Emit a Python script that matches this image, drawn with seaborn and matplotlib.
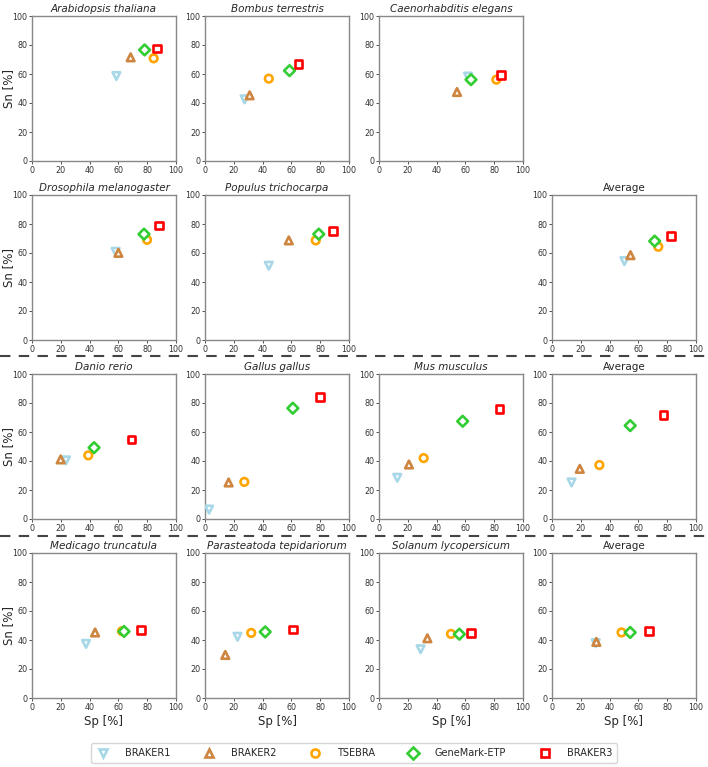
import matplotlib
matplotlib.use("Agg")
import matplotlib.pyplot as plt
from matplotlib.lines import Line2D
import seaborn as sns
import pandas as pd

sns.set_style("white")
plt.rcParams['font.family'] = ['DejaVu Sans']

tools = ["BRAKER1", "BRAKER2", "TSEBRA", "GeneMark-ETP", "BRAKER3"]
tool_colors = ["#a8d8e8", "#cd853f", "#ffa500", "#32cd32", "#ff0000"]
tool_markers = ["v", "^", "o", "D", "s"]

titles = ["Arabidopsis thaliana", "Bombus terrestris", "Caenorhabditis elegans",
          "Drosophila melanogaster", "Populus trichocarpa", "Average",
          "Danio rerio", "Gallus gallus", "Mus musculus", "Average",
          "Medicago truncatula", "Parasteatoda tepidariorum", "Solanum lycopersicum", "Average"]

# Sp [%] per panel, in tool order
sp_values = [
    [58.6, 68.5, 84.5, 78.2, 86.6],
    [27.5, 31.0, 44.3, 58.7, 64.9],
    [61.8, 54.2, 81.5, 63.9, 84.7],
    [58.1, 60.0, 79.9, 77.8, 88.2],
    [44.3, 58.2, 76.9, 79.0, 88.9],
    [50.3, 54.5, 73.8, 71.3, 82.8],
    [23.6, 19.9, 39.1, 43.1, 69.2],
    [2.8, 16.4, 27.3, 61.0, 79.9],
    [12.7, 20.8, 31.0, 58.1, 83.6],
    [13.6, 19.3, 32.9, 54.3, 77.5],
    [37.5, 43.8, 62.5, 63.9, 75.9],
    [22.6, 14.1, 32.1, 41.8, 61.2],
    [28.9, 33.6, 50.0, 55.8, 63.9],
    [30.3, 30.8, 48.3, 54.3, 67.4],
]
# Sn [%] per panel, in tool order
sn_values = [
    [58.6, 71.5, 70.8, 76.6, 77.7],
    [42.5, 45.3, 56.8, 62.3, 66.9],
    [58.2, 47.6, 56.1, 56.1, 59.3],
    [60.8, 60.1, 69.1, 73.0, 79.0],
    [51.2, 68.7, 68.7, 73.0, 75.1],
    [54.4, 58.5, 64.3, 68.2, 71.7],
    [40.4, 41.1, 43.9, 49.2, 54.7],
    [6.5, 25.2, 25.6, 76.4, 84.1],
    [28.4, 37.6, 42.0, 67.4, 76.0],
    [25.2, 34.6, 37.2, 64.4, 71.6],
    [37.3, 45.2, 46.1, 45.9, 47.0],
    [42.2, 29.7, 44.9, 45.6, 47.2],
    [33.6, 41.2, 44.2, 44.0, 44.7],
    [37.8, 38.7, 45.2, 45.2, 46.3],
]
grid_pos = [(0, 0), (0, 1), (0, 2), (1, 0), (1, 1), (1, 3),
            (2, 0), (2, 1), (2, 2), (2, 3), (3, 0), (3, 1), (3, 2), (3, 3)]
ticks = [0, 20, 40, 60, 80, 100]

W, H = 708, 767
fig = plt.figure(figsize=(W / 100, H / 100), dpi=100)
col_left = [32, 205, 379, 552]
row_top = [16, 195, 374, 553]
aw, ah = 144, 145

palette = dict(zip(tools, tool_colors))
markers = dict(zip(tools, tool_markers))

for title, sp, sn, (r, c) in zip(titles, sp_values, sn_values, grid_pos):
    ax = fig.add_axes([col_left[c] / W, 1 - (row_top[r] + ah) / H, aw / W, ah / H])
    df = pd.DataFrame({"Sp": sp, "Sn": sn, "tool": tools})
    sns.scatterplot(data=df, x="Sp", y="Sn", hue="tool", style="tool",
                    palette=palette, markers=markers, hue_order=tools,
                    style_order=tools, s=30, ax=ax, legend=False, zorder=3)
    for coll in ax.collections:
        fc = coll.get_facecolors()
        coll.set_edgecolors(fc)
        coll.set_facecolors("white")
        coll.set_linewidths(1.9)
    ax.set_xlim(0, 100)
    ax.set_ylim(0, 100)
    ax.set_xticks(ticks)
    ax.set_yticks(ticks)
    ax.tick_params(labelsize=5.8, length=2, width=0.6, colors="#333333",
                   pad=1.5, left=True, bottom=True)
    for s in ax.spines.values():
        s.set_color("#888888")
        s.set_linewidth(1.0)
    ax.set_title(title, fontsize=7.5, style=("normal" if title == "Average" else "italic"),
                 pad=3)
    ax.set_xlabel("Sp [%]" if r == 3 else "", fontsize=8.5, labelpad=2)
    if c == 0:
        ax.set_ylabel("Sn [%]", fontsize=8.5)
        ax.yaxis.set_label_coords(-0.115, 0.5)
    else:
        ax.set_ylabel("")

for yp in [356, 536]:
    fig.add_artist(Line2D([0, 1], [1 - yp / H, 1 - yp / H], transform=fig.transFigure,
                          color="#444444", lw=1.5, ls=(0, (5, 4))))

handles = [Line2D([], [], marker=m, color=col, markerfacecolor="white",
                  markeredgecolor=col, markeredgewidth=1.9, markersize=5.8, ls="none")
           for m, col in zip(tool_markers, tool_colors)]
fig.legend(handles, tools, loc="center", bbox_to_anchor=(0.5, 1 - 753 / H),
           ncol=5, fontsize=7, handlelength=1.5, handletextpad=1.5,
           columnspacing=3.2, borderpad=0.5, borderaxespad=0.0, frameon=True)

fig.savefig("out.png", dpi=100)
